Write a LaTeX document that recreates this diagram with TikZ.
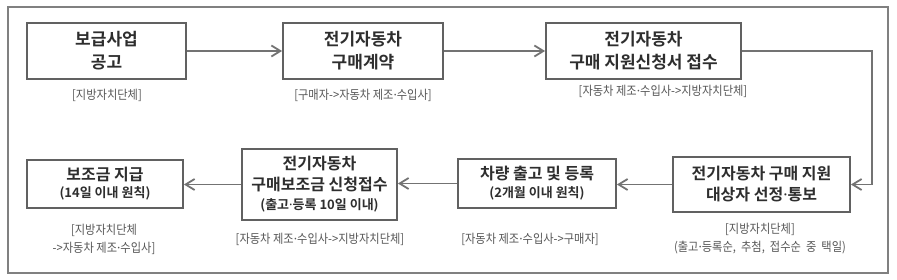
\documentclass[tikz,border=0pt]{standalone}
\usepackage{fontspec}
\setmainfont{Noto Sans CJK KR}[BoldFont={* Bold}]
\newfontfamily\notefont{Noto Sans CJK KR}[FakeStretch=0.9]
\newfontfamily\latinfont{Noto Sans}
\usetikzlibrary{arrows.meta}

\newcommand{\subsize}{\bfseries\fontsize{13}{17}\selectfont}
\newcommand{\mdot}{{\latinfont\char"00B7}}

\begin{document}
\begin{tikzpicture}[x=1pt, y=-1pt,
  >={Straight Barb[length=9pt, width=11pt]},
  stepbox/.style={draw=black!62, line width=1.8pt, fill=white, text=black!82,
    font=\bfseries\fontsize{17}{23}\selectfont, align=center, inner sep=0pt},
  lowbox/.style={stepbox, font=\bfseries\fontsize{16}{21}\selectfont},
  note/.style={text=black!66, font=\notefont\fontsize{12.5}{18}\selectfont, align=center},
  flow/.style={->, draw=black!55, line width=1.8pt}]

\useasboundingbox (0,0) rectangle (897,279);

%-- outer frame
\draw[black!50, line width=1.3pt] (8,7) rectangle (888,273);

%-- top row
\node[stepbox, minimum width=159pt, minimum height=56pt] (B1) at (106.5,51) {보급사업\\공고};
\node[stepbox, minimum width=160pt, minimum height=56pt] (B2) at (363,51)   {전기자동차\\구매계약};
\node[stepbox, minimum width=195pt, minimum height=56pt] (B3) at (643.5,51) {전기자동차\\구매 지원신청서 접수};

%-- bottom row
\node[lowbox, minimum width=177pt, minimum height=55pt] (B4) at (761.5,184.5)
  {전기자동차 구매 지원\\대상자 선정\mdot 통보};
\node[lowbox, minimum width=158pt, minimum height=49pt] (B5) at (537,183.5)
  {차량 출고 및 등록\\[-3pt]{\subsize(2개월 이내 원칙)}};
\node[lowbox, minimum width=155pt, minimum height=71pt] (B6) at (319.5,184.5)
  {전기자동차\\구매보조금 신청접수\\[-2pt]{\subsize(출고\mdot 등록 10일 이내)}};
\node[lowbox, minimum width=156pt, minimum height=48pt] (B7) at (105,184)
  {보조금 지급\\[-4pt]{\subsize(14일 이내 원칙)}};

%-- actors
\node[note] (L1) at (107,95)  {[지방자치단체]};
\node[note] (L2) at (363,95)  {[구매자->자동차 제조\mdot 수입사]};
\node[note] (L3) at (663,91)  {[자동차 제조\mdot 수입사->지방자치단체]};
\node[note] (L4) at (760,239) {[지방자치단체]\\(출고\mdot 등록순, \ 추첨, \ 접수순 \ 중 \ 택일)};
\node[note] (L5) at (530,239) {[자동차 제조\mdot 수입사->구매자]};
\node[note] (L6) at (320,239) {[자동차 제조\mdot 수입사->지방자치단체]};
\node[note] (L7) at (104,239) {[지방자치단체\\->자동차 제조\mdot 수입사]};

%-- connectors
\coordinate (Turn) at (872,0);
\draw[flow] (B1.east) -- (B2.west);
\draw[flow] (B2.east) -- (B3.west);
\draw[flow] (B3.east) -- (B3.east -| Turn) |- (B4.east);
\draw[flow] (B4.west) -- (B4.west -| B5.east);
\draw[flow] (B5.west) -- (B5.west -| B6.east);
\draw[flow] (B6.west) -- (B6.west -| B7.east);

\end{tikzpicture}
\end{document}
